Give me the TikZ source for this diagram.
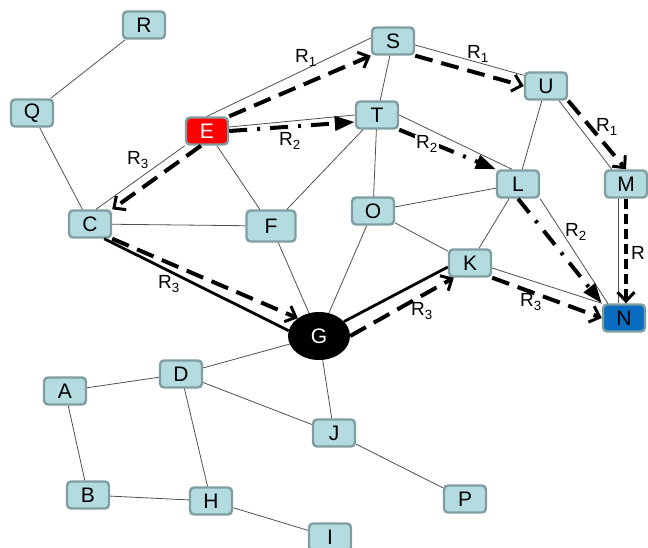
\documentclass[tikz,border=0pt]{standalone}
\usepackage{fontspec}
\setmainfont{Liberation Sans}
\usetikzlibrary{arrows.meta,calc,shapes.geometric}
\definecolor{nfill}{HTML}{B4DCE0}
\definecolor{nborder}{HTML}{7E9EA2}
\definecolor{efill}{HTML}{FF0000}
\definecolor{nblue}{HTML}{0A6CC0}
\definecolor{edgegray}{HTML}{505050}
\begin{document}
\begin{tikzpicture}[x=1pt,y=-1pt,
  box/.style={draw=nborder, line width=2.4pt, fill=nfill, rounded corners=4pt,
    minimum width=42pt, minimum height=27pt, inner sep=0pt,
    font=\fontsize{21}{21}\selectfont},
  bigbox/.style={box, minimum width=49pt, minimum height=31pt},
  edge/.style={draw=edgegray, line width=0.8pt},
  heavy/.style={draw=black, line width=2.8pt},
  routeA/.style={line width=4pt, dash pattern=on 18pt off 9pt,
    -{Straight Barb[length=9pt,width=17pt,line width=3pt]}},
  routeB/.style={line width=4pt, dash pattern=on 18pt off 10pt on 3pt off 10pt,
    -{Triangle[length=20pt,width=14pt]}},
  lab/.style={font=\fontsize{19}{19}\selectfont, inner sep=0pt}
]
\useasboundingbox (0,0) rectangle (648,547);

% nodes
\node[box] (R) at (144,25) {R};
\node[box] (Q) at (32,113) {Q};
\node[box, fill=efill, text=white] (E) at (207,131) {E};
\node[box] (C) at (90,224) {C};
\node[bigbox] (F) at (271,226) {F};
\node[box] (S) at (393,41) {S};
\node[box] (T) at (377,115) {T};
\node[box] (U) at (546,86) {U};
\node[box] (L) at (518,184) {L};
\node[box] (M) at (626,184) {M};
\node[box] (O) at (373,211) {O};
\node[box] (K) at (470,263) {K};
\node[box, fill=nblue] (N) at (624,318) {N};
\node[ellipse, fill=black, text=white, minimum width=62pt, minimum height=48pt,
      inner sep=0pt, font=\fontsize{21}{21}\selectfont] (G) at (319,336) {G};
\node[box] (D) at (181,374) {D};
\node[box] (A) at (65,391) {A};
\node[box] (B) at (88,495) {B};
\node[box] (H) at (211,501) {H};
\node[box] (J) at (334,433) {J};
\node[box] (P) at (465,499) {P};
\node[box] (I) at (330,537) {I};

% plain edges
\draw[edge] (R) -- (Q);
\draw[edge] (Q) -- (C);
\draw[edge] (E) -- (F);
\draw[edge] (C) -- (F);
\draw[edge] (F) -- (T);
\draw[edge] (F) -- (G);
\draw[edge] (S) -- (T);
\draw[edge] (T) -- (O);
\draw[edge] (U) -- (L);
\draw[edge] (L) -- (O);
\draw[edge] (L) -- (K);
\draw[edge] (O) -- (K);
\draw[edge] (O) -- (G);
\draw[edge] (G) -- (D);
\draw[edge] (G) -- (J);
\draw[edge] (D) -- (A);
\draw[edge] (D) -- (H);
\draw[edge] (D) -- (J);
\draw[edge] (A) -- (B);
\draw[edge] (B) -- (H);
\draw[edge] (H) -- (I);
\draw[edge] (J) -- (P);

% edges that carry a route
\draw[edge] (E.north) -- ($(S.west)+(0,-3)$);
\draw[edge] ($(E.east)+(0,-4)$) -- (T.west);
\draw[edge] (E.south west) -- ($(C.north)+(6,0)$);
\draw[edge] ($(S.east)+(0,4)$) -- ($(U.north west)+(0,4)$);
\draw[edge] (T.east) -- ($(L.north)+(-6,0)$);
\draw[edge] ($(U.south)+(13,0)$) -- ($(M.north west)+(8,0)$);
\draw[edge] ($(M.south)+(-8,0)$) -- ($(M.south |- N.north)+(-8,0)$);
\draw[edge] (L.south east) -- ($(N.north west)+(6,0)$);
\draw[edge] ($(K.east)+(0,5)$) -- (N.north west);
\draw[heavy] ($(C.south east)+(-8,0)$) -- (G.170);
\draw[heavy] (G.30) -- ($(K.west)+(0,4)$);

% route R1
\draw[routeA] (E.north east) -- (S.south west);
\draw[routeA] (S.south east) -- (U.west);
\draw[routeA] (U.south east) -- (M.north);
\draw[routeA, dash pattern=on 10pt off 5pt] (M.south) -- (M.south |- N.north);
% route R2
\draw[routeB] (E.east) -- ($(T.west)+(0,7)$);
\draw[routeB] (T.south east) -- (L.north west);
\draw[routeB] (L.south) -- (N.north west);
% route R3
\draw[routeA] ($(E.south)+(-6,0)$) -- (C.north east);
\draw[routeA] (C.south east) -- (G.140);
\draw[routeA] (G.east) -- ($(K.south west)+(6,0)$);
\draw[routeA] (K.south east) -- (N.west);

% labels
\node[lab] (l1) at (306,58) {R\textsubscript{1}};
\node[lab] (l2) at (290,141) {R\textsubscript{2}};
\node[lab] (l3) at (138,160) {R\textsubscript{3}};
\node[lab] (l4) at (478,54) {R\textsubscript{1}};
\node[lab] (l5) at (607,127) {R\textsubscript{1}};
\node[lab, fill=white, inner sep=1pt] (l6) at (427,144) {R\textsubscript{2}};
\node[lab] (l7) at (576,232) {R\textsubscript{2}};
\node[lab] (l8) at (638,253) {R};
\node[lab] (l9) at (169,284) {R\textsubscript{3}};
\node[lab] (l10) at (422,311) {R\textsubscript{3}};
\node[lab] (l11) at (531,302) {R\textsubscript{3}};
\end{tikzpicture}
\end{document}
